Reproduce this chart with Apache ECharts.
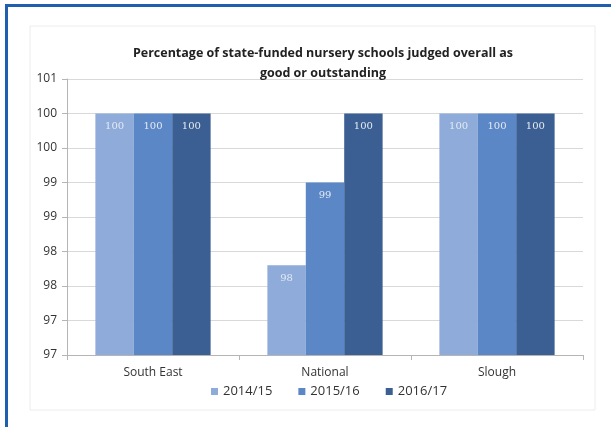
<!DOCTYPE html>
<html>
<head>
<meta charset="utf-8">
<script src="https://cdn.jsdelivr.net/npm/echarts@6/dist/echarts.min.js"></script>
<style>
  html, body { margin: 0; padding: 0; background: #fff; }
  #main { width: 611px; height: 427px; }
</style>
</head>
<body>
<div id="main"></div>
<script>
var categories = ['South East', 'National', 'Slough'];
var seriesNames = ['2014/15', '2015/16', '2016/17'];
var values2014 = [100, 97.8, 100];
var values2015 = [100, 99, 100];
var values2016 = [100, 100, 100];
var colors = ['#8eabda', '#5b87c6', '#3c5f93'];

var chart = echarts.init(document.getElementById('main'));

function barSeries(name, data, color) {
  return {
    name: name,
    type: 'bar',
    data: data,
    barGap: '0%',
    barCategoryGap: '33%',
    itemStyle: { color: color },
    label: {
      show: true,
      position: 'insideTop',
      distance: 8,
      color: '#e4eaf3',
      fontSize: 10,
      fontFamily: 'DejaVu Serif',
      formatter: function (p) { return String(Math.round(p.value)); }
    }
  };
}

var option = {
  animation: false,
  backgroundColor: '#fff',
  textStyle: { fontFamily: 'Open Sans' },
  title: {
    text: 'Percentage of state-funded nursery schools judged overall as\ngood or outstanding',
    left: 318,
    textAlign: 'center',
    top: 38,
    textStyle: { fontSize: 12.5, fontWeight: 'bold', color: '#222', lineHeight: 20, fontFamily: 'Open Sans' }
  },
  legend: {
    data: seriesNames,
    bottom: 24,
    left: 206,
    itemWidth: 7,
    itemHeight: 7,
    itemGap: 26,
    icon: 'rect',
    textStyle: { fontSize: 13, color: '#333' }
  },
  grid: { left: 67, right: 28, top: 79, bottom: 72 },
  xAxis: {
    type: 'category',
    data: categories,
    axisLine: { lineStyle: { color: '#b5b5b5' } },
    axisTick: { show: true, length: 5, lineStyle: { color: '#b5b5b5' } },
    axisLabel: { color: '#333', fontSize: 12, margin: 12 }
  },
  yAxis: {
    type: 'value',
    min: 96.5,
    max: 100.5,
    interval: 0.5,
    axisLine: { show: true, lineStyle: { color: '#b5b5b5' } },
    axisTick: { show: true, length: 5, inside: false, lineStyle: { color: '#b5b5b5' } },
    splitLine: { lineStyle: { color: '#d9d9d9' } },
    axisLabel: {
      color: '#333',
      fontSize: 12,
      margin: 10,
      formatter: function (v) { return String(Math.round(v)); }
    }
  },
  series: [
    barSeries(seriesNames[0], values2014, colors[0]),
    barSeries(seriesNames[1], values2015, colors[1]),
    barSeries(seriesNames[2], values2016, colors[2])
  ],
  graphic: [
    { type: 'rect', shape: { x: 30, y: 26, width: 565, height: 384 }, style: { fill: 'none', stroke: '#ececec', lineWidth: 1 } },
    { type: 'rect', shape: { x: 5, y: 4, width: 606, height: 3 }, style: { fill: '#1f5fb0' } },
    { type: 'rect', shape: { x: 5, y: 4, width: 3, height: 423 }, style: { fill: '#1f5fb0' } }
  ]
};

chart.setOption(option);
</script>
</body>
</html>
